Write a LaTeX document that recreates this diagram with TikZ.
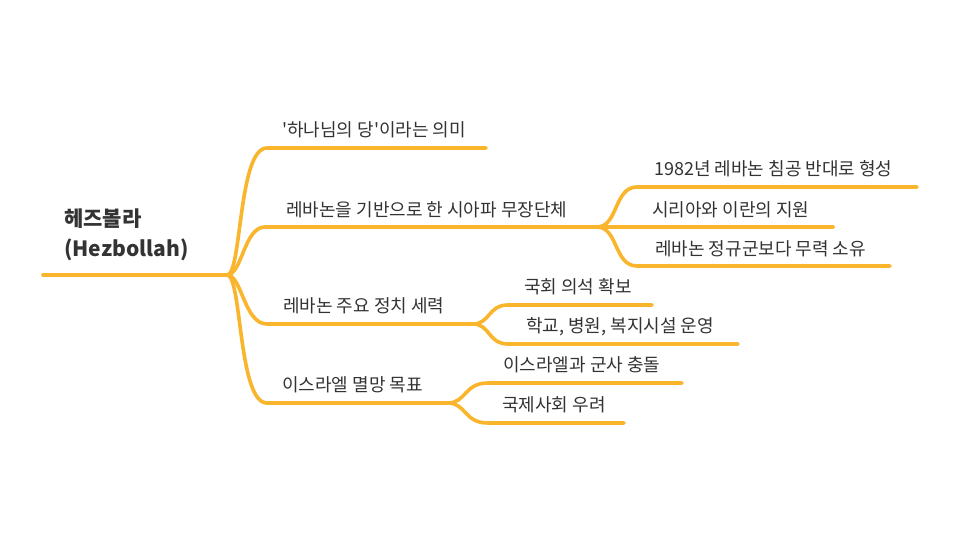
\documentclass[tikz,border=0pt]{standalone}
\usepackage{fontspec}
\setmainfont{Noto Sans CJK KR}[Ligatures=TeXOff]
\definecolor{branch}{RGB}{249,181,44}
\definecolor{txt}{RGB}{51,51,51}
\begin{document}
\begin{tikzpicture}[x=1pt,y=-1pt,
  link/.style={draw=branch,line width=3.6pt,line cap=round},
  lbl/.style={anchor=west,inner sep=0pt,text=txt,font=\fontsize{18}{20}\selectfont},
  title/.style={anchor=north west,inner sep=0pt,text=txt,align=left,font=\bfseries\fontsize{21}{30}\selectfont}]
\useasboundingbox[fill=white] (0,0) rectangle (960,540);
% root
\node[title] (root) at (64,209) {헤즈볼라\\(Hezbollah)};
\coordinate (r0) at (43,275);
\coordinate (f0) at (227,275);
\draw[link] (r0) -- (f0);
% level 1
\coordinate (a1) at (267,148); \coordinate (a1e) at (486,148);
\coordinate (a2) at (265,227); \coordinate (f2) at (597,227);
\coordinate (a3) at (267,324); \coordinate (f3) at (473,324);
\coordinate (a4) at (267,403); \coordinate (f4) at (448,403);
\draw[link] (f0) .. controls (242,275) and (238,148) .. (a1) -- (a1e);
\draw[link] (f0) .. controls (242,275) and (244,227) .. (a2) -- (f2);
\draw[link] (f0) .. controls (242,275) and (244,324) .. (a3) -- (f3);
\draw[link] (f0) .. controls (242,275) and (238,403) .. (a4) -- (f4);
\node[lbl] (t1) at (282,130) {'하나님의 당'이라는 의미};
\node[lbl] (t2) at (286,210) {레바논을 기반으로 한 시아파 무장단체};
\node[lbl] (t3) at (283,306) {레바논 주요 정치 세력};
\node[lbl] (t4) at (282,385) {이스라엘 멸망 목표};
% level 2 under branch 2
\coordinate (b1) at (637,187); \coordinate (b1e) at (917,187);
\coordinate (b2e) at (833,227);
\coordinate (b3) at (637,266); \coordinate (b3e) at (890,266);
\draw[link] (f2) .. controls (618,227) and (614,187) .. (b1) -- (b1e);
\draw[link] (f2) -- (b2e);
\draw[link] (f2) .. controls (618,227) and (614,266) .. (b3) -- (b3e);
\node[lbl] (u1) at (654,169) {1982년 레바논 침공 반대로 형성};
\node[lbl] (u2) at (652,210) {시리아와 이란의 지원};
\node[lbl] (u3) at (655,249) {레바논 정규군보다 무력 소유};
% level 2 under branch 3
\coordinate (c1) at (508,305); \coordinate (c1e) at (652,305);
\coordinate (c2) at (508,344); \coordinate (c2e) at (738,344);
\draw[link] (f3) .. controls (490,324) and (488,305) .. (c1) -- (c1e);
\draw[link] (f3) .. controls (490,324) and (488,344) .. (c2) -- (c2e);
\node[lbl] (v1) at (524,287) {국회 의석 확보};
\node[lbl] (v2) at (526,327) {학교, 병원, 복지시설 운영};
% level 2 under branch 4
\coordinate (d1) at (488,383); \coordinate (d1e) at (682,383);
\coordinate (d2) at (488,423); \coordinate (d2e) at (624,423);
\draw[link] (f4) .. controls (466,403) and (464,383) .. (d1) -- (d1e);
\draw[link] (f4) .. controls (466,403) and (464,423) .. (d2) -- (d2e);
\node[lbl] (w1) at (503,365) {이스라엘과 군사 충돌};
\node[lbl] (w2) at (502,405) {국제사회 우려};
\end{tikzpicture}
\end{document}
